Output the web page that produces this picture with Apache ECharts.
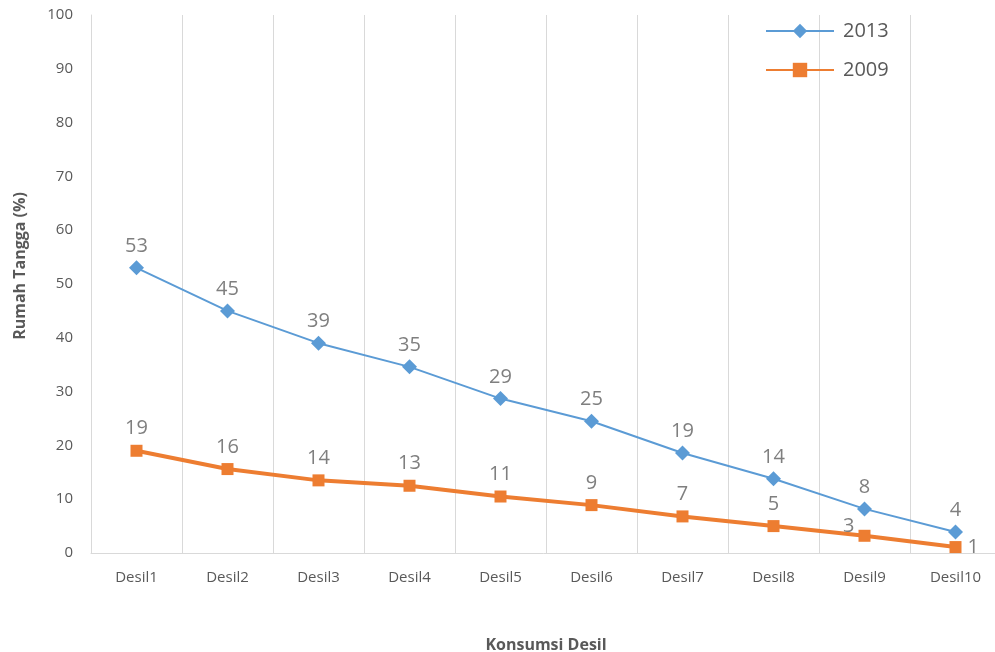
<!DOCTYPE html>
<html>
<head>
<meta charset="utf-8">
<script src="https://cdn.jsdelivr.net/npm/echarts@6/dist/echarts.min.js"></script>
<style>
  html, body { margin: 0; padding: 0; background: #fff; }
  #chart { width: 995px; height: 652px; }
</style>
</head>
<body>
<div id="chart"></div>
<script>
const categories = ['Desil1', 'Desil2', 'Desil3', 'Desil4', 'Desil5', 'Desil6', 'Desil7', 'Desil8', 'Desil9', 'Desil10'];
const values2013 = [53.0, 45.0, 39.0, 34.6, 28.7, 24.5, 18.6, 13.8, 8.2, 3.9];
const values2009 = [19.0, 15.6, 13.5, 12.5, 10.5, 8.9, 6.8, 5.0, 3.2, 1.1];

const FONT = '"Open Sans", "Noto Sans", sans-serif';
const GRAY = '#595959';

// a couple of labels sit beside the marker instead of above it
const labelPos2009 = {
    8: { position: 'left', distance: 4, offset: [0, -9] },
    9: { position: 'right', distance: 6 }
};

const chart = echarts.init(document.getElementById('chart'), null, { renderer: 'canvas' });

chart.setOption({
    backgroundColor: '#fff',
    animation: false,
    textStyle: { fontFamily: FONT },
    legend: {
        orient: 'vertical',
        left: 760,
        top: 16,
        itemWidth: 68,
        itemHeight: 18,
        itemGap: 19,
        textStyle: { fontSize: 20, color: GRAY, fontFamily: FONT, padding: [0, 0, 0, 4] },
        data: ['2013', '2009']
    },
    grid: {
        left: 91,
        top: 15,
        width: 910,
        height: 538,
        containLabel: false,
        outerBoundsMode: 'none'
    },
    xAxis: {
        type: 'category',
        data: categories,
        name: 'Konsumsi Desil',
        nameLocation: 'middle',
        nameGap: 84,
        nameTextStyle: { fontSize: 16, fontWeight: 'bold', color: GRAY, fontFamily: FONT },
        axisLine: { lineStyle: { color: '#d9d9d9', width: 1 } },
        axisTick: { show: false },
        axisLabel: { fontSize: 15, color: GRAY, margin: 17, fontFamily: FONT },
        splitLine: { show: true, lineStyle: { color: '#d9d9d9', width: 1 } }
    },
    yAxis: {
        type: 'value',
        min: 0,
        max: 100,
        interval: 10,
        name: 'Rumah Tangga (%)',
        nameLocation: 'middle',
        nameGap: 63,
        nameTextStyle: { fontSize: 16, fontWeight: 'bold', color: GRAY, fontFamily: FONT, padding: [0, 0, 0, 36] },
        axisLine: { show: true, lineStyle: { color: '#d9d9d9', width: 1 } },
        axisTick: { show: false },
        axisLabel: { fontSize: 15, color: GRAY, margin: 18, fontFamily: FONT },
        splitLine: { show: false }
    },
    series: [
        {
            name: '2013',
            type: 'line',
            data: values2013,
            symbol: 'diamond',
            symbolSize: 15,
            itemStyle: { color: '#5B9BD5' },
            lineStyle: { color: '#5B9BD5', width: 2 },
            label: {
                show: true,
                position: 'top',
                distance: 4,
                fontSize: 20,
                color: '#7f7f7f',
                fontFamily: FONT,
                formatter: p => Math.round(p.value)
            },
            z: 3
        },
        {
            name: '2009',
            type: 'line',
            symbol: 'rect',
            symbolSize: 12,
            data: values2009.map((v, i) => labelPos2009[i]
                ? { value: v, label: labelPos2009[i] }
                : v),
            itemStyle: { color: '#ED7D31' },
            lineStyle: { color: '#ED7D31', width: 4 },
            label: {
                show: true,
                position: 'top',
                distance: 6,
                fontSize: 20,
                color: '#7f7f7f',
                fontFamily: FONT,
                formatter: p => Math.round(p.value)
            },
            z: 2
        }
    ]
});
</script>
</body>
</html>
